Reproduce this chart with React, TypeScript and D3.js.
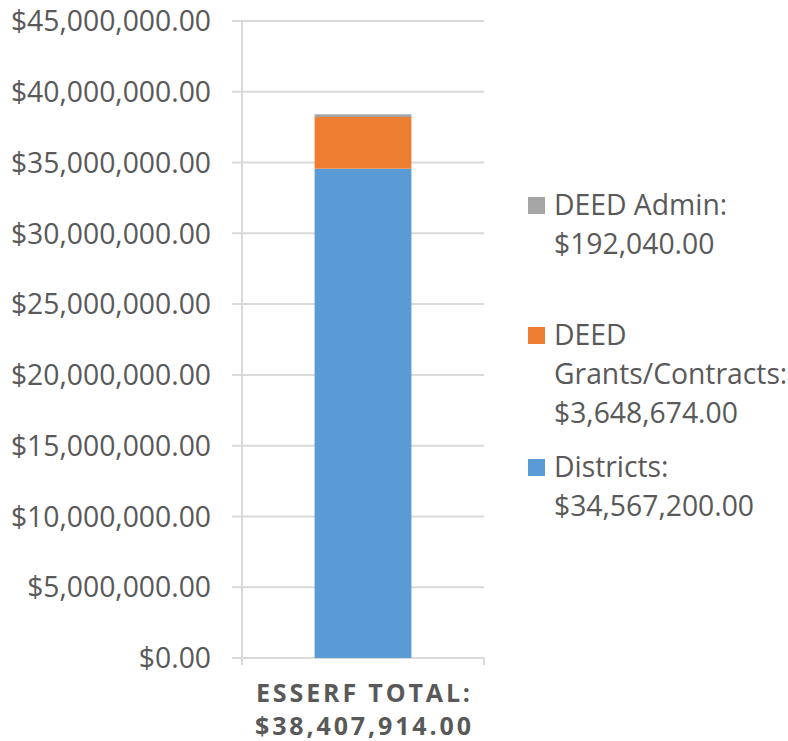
import React from "react";
import * as d3 from "d3";

const categories = ["ESSERF TOTAL:"];
const categoryTotals = ["$38,407,914.00"];
const seriesNames = ["Districts", "DEED Grants/Contracts", "DEED Admin"];
const districts = [34567200];
const deedGrants = [3648674];
const deedAdmin = [192040];
const seriesColors = ["#5B9BD5", "#ED7D31", "#A5A5A5"];
const yTicks = [0, 5e6, 10e6, 15e6, 20e6, 25e6, 30e6, 35e6, 40e6, 45e6];
const legendLines = [
  ["DEED Admin:", "$192,040.00"],
  ["DEED", "Grants/Contracts:", "$3,648,674.00"],
  ["Districts:", "$34,567,200.00"],
];

const W = 788, H = 741;
const FONT = "'Open Sans', 'Liberation Sans', sans-serif";
const TEXT = "#595959";
const GRID = "#D9D9D9";

export default function App() {
  const x = d3.scaleBand().domain(categories).range([242, 484]).paddingInner(0).paddingOuter(0.75);
  const y = d3.scaleLinear().domain([0, 45e6]).range([658, 21]);
  const rows = categories.map((c, i) => ({
    cat: c,
    "Districts": districts[i],
    "DEED Grants/Contracts": deedGrants[i],
    "DEED Admin": deedAdmin[i],
  }));
  const stack = d3.stack<any>().keys(seriesNames)(rows);
  const fmt = (v: number) => "$" + d3.format(",.2f")(v);

  const legendOrder = [2, 1, 0];
  const legendTop = [205, 335, 467];
  const lineH = 38.8;

  return (
    <svg width={W} height={H} style={{ position: "absolute", left: 0, top: 0, background: "#fff" }}>
      {yTicks.map((t) => (
        <line key={t} x1={232} x2={484} y1={y(t)} y2={y(t)} stroke={GRID} strokeWidth={2} />
      ))}
      <line x1={242} x2={242} y1={y(45e6)} y2={665} stroke={GRID} strokeWidth={2} />
      <line x1={484} x2={484} y1={658} y2={665} stroke={GRID} strokeWidth={2} />
      {yTicks.map((t) => (
        <text key={"l" + t} x={211} y={y(t)} dy="0.36em" textAnchor="end" fontFamily={FONT} fontSize={28.3} fill={TEXT}>
          {fmt(t)}
        </text>
      ))}
      {stack.map((s, si) =>
        s.map((d, i) => (
          <rect
            key={si + "-" + i}
            x={x(categories[i])}
            width={x.bandwidth()}
            y={y(d[1])}
            height={y(d[0]) - y(d[1])}
            fill={seriesColors[si]}
          />
        ))
      )}
      {categories.map((c, i) => {
        const cx = (x(c) as number) + x.bandwidth() / 2;
        return (
          <g key={c} fontFamily={FONT} fontWeight="bold" fontSize={25} fill={TEXT} textAnchor="middle">
            <text x={cx} y={702} textLength={214} lengthAdjust="spacing">{c}</text>
            <text x={cx} y={735} textLength={216} lengthAdjust="spacing">{categoryTotals[i]}</text>
          </g>
        );
      })}
      {legendOrder.map((si, k) => (
        <g key={si}>
          <rect x={528} y={legendTop[k] - 8} width={17} height={17} fill={seriesColors[si]} />
          {legendLines[k].map((ln, j) => (
            <text key={j} x={554} y={legendTop[k] + j * lineH} dy="0.36em" fontFamily={FONT} fontSize={28.3} fill={TEXT}>
              {ln}
            </text>
          ))}
        </g>
      ))}
    </svg>
  );
}
